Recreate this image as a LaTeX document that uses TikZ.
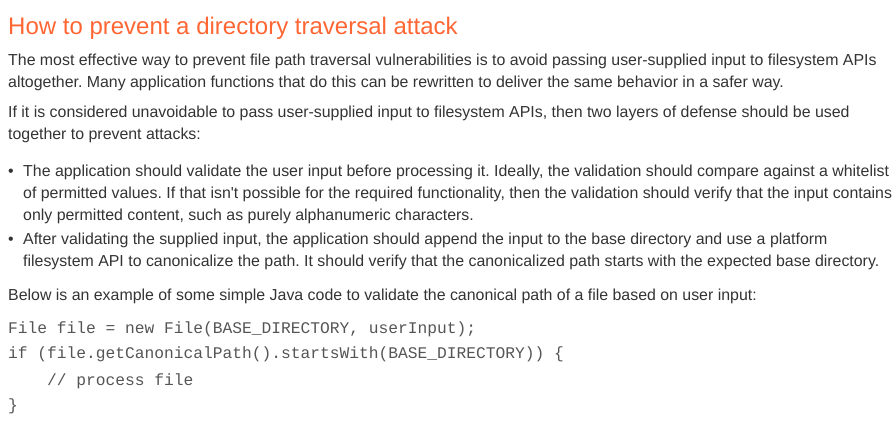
\documentclass[tikz,border=0pt]{standalone}
\usepackage{fontspec}
\setmainfont{Liberation Sans}
\setmonofont{Liberation Mono}
\usetikzlibrary{positioning}
\frenchspacing

\definecolor{headorange}{HTML}{FF6633}
\definecolor{bodygray}{HTML}{333333}
\definecolor{codegray}{HTML}{555555}

\begin{document}
\begin{tikzpicture}[
						x=1pt, y=-1pt,
						head/.style = {anchor=base west, inner sep=0pt, text=headorange, font=\fontsize{24}{28}\selectfont},
						body/.style = {anchor=base west, inner sep=0pt, text=bodygray, font=\fontsize{15.9}{22}\selectfont},
						code/.style = {anchor=base west, inner sep=0pt, text=codegray, font=\ttfamily\fontsize{16.25}{22}\selectfont},
						dot/.style = {anchor=base west, inner sep=0pt, text=bodygray, font=\fontsize{15.9}{22}\selectfont}
					]
\useasboundingbox (0,0) rectangle (894,422);
\node[head] (title) at (8,35) {How to prevent a directory traversal attack};

\node[body] (p1a) at (8,66) {The most effective way to prevent file path traversal vulnerabilities is to avoid passing user-supplied input to filesystem APIs};
\node[body] (p1b) at (8,88) {altogether. Many application functions that do this can be rewritten to deliver the same behavior in a safer way.};

\node[body] (p2a) at (8,118) {If it is considered unavoidable to pass user-supplied input to filesystem APIs, then two layers of defense should be used};
\node[body] (p2b) at (8,140) {together to prevent attacks:};

\node[dot] (b1) at (8,177) {\textbullet};
\node[body] (b1a) at (23,177) {The application should validate the user input before processing it. Ideally, the validation should compare against a whitelist};
\node[body] (b1b) at (23,199) {of permitted values. If that isn\textquotesingle t possible for the required functionality, then the validation should verify that the input contains};
\node[body] (b1c) at (23,221) {only permitted content, such as purely alphanumeric characters.};
\node[dot] (b2) at (8,244) {\textbullet};
\node[body] (b2a) at (23,244) {After validating the supplied input, the application should append the input to the base directory and use a platform};
\node[body] (b2b) at (23,266) {filesystem API to canonicalize the path. It should verify that the canonicalized path starts with the expected base directory.};

\node[body] (p3) at (8,300) {Below is an example of some simple Java code to validate the canonical path of a file based on user input:};

\node[code] (c1) at (8,333) {File file = new File(BASE\_DIRECTORY, userInput);};
\node[code] (c2) at (8,358) {if (file.getCanonicalPath().startsWith(BASE\_DIRECTORY)) \{};
\node[code] (c3) at (8,385) {\ \ \ \ // process file};
\node[code] (c4) at (8,410) {\}};
\end{tikzpicture}
\end{document}
